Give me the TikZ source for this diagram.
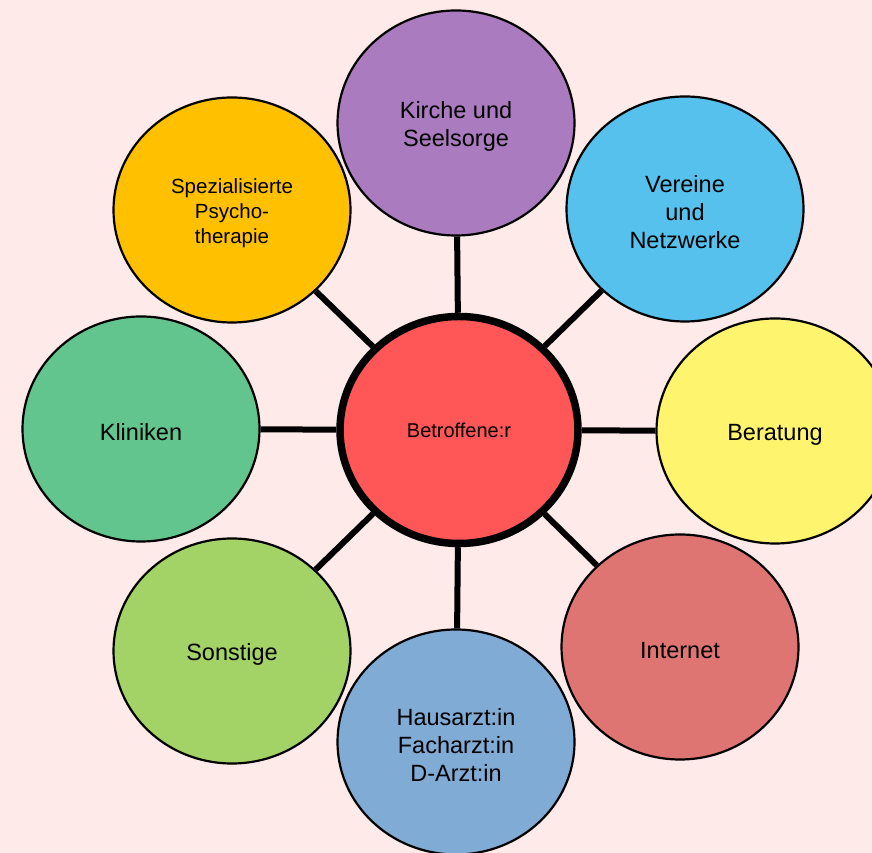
\documentclass[tikz,border=0pt]{standalone}
\usepackage{fontspec}
\setmainfont{Liberation Sans}
\usetikzlibrary{shapes.geometric}
\definecolor{bgpink}{HTML}{FFEAEA}
\definecolor{hubred}{HTML}{FF5757}
\definecolor{kirchecol}{HTML}{AA7BBE}
\definecolor{vereinecol}{HTML}{55C1EC}
\definecolor{beratungcol}{HTML}{FFF46E}
\definecolor{internetcol}{HTML}{DE7573}
\definecolor{arztcol}{HTML}{80ABD5}
\definecolor{sonstigecol}{HTML}{A3D366}
\definecolor{klinikcol}{HTML}{63C58E}
\definecolor{psychocol}{HTML}{FFC000}
% taller first line, pushes the text a little down
\newcommand{\toprule}{\rule{0pt}{1em}}
\begin{document}
\begin{tikzpicture}[x=1pt, y=1pt,
    bubble/.style={draw, ellipse, line width=2.2pt, minimum width=237pt, minimum height=225pt,
      inner sep=0pt, align=center, font=\fontsize{23.5}{28}\selectfont},
    hub/.style={draw, ellipse, line width=7.5pt, fill=hubred, minimum width=238pt, minimum height=227pt,
      inner sep=0pt, font=\fontsize{20}{24}\selectfont},
    link/.style={line width=6pt}]
  \fill[bgpink] (0,0) rectangle (872,853);
  \useasboundingbox (0,0) rectangle (872,853);
  \clip (0,0) rectangle (872,853);

  \node[hub] (hub) at (459, 423) {Betroffene:r};

  \node[bubble, fill=kirchecol] (kirche) at (456, 730) {\toprule Kirche und\\Seelsorge};
  \node[bubble, fill=vereinecol] (vereine) at (685, 644) {\toprule Vereine\\und\\Netzwerke};
  \node[bubble, fill=beratungcol] (beratung) at (775, 422) {\toprule Beratung};
  \node[bubble, fill=internetcol] (internet) at (680, 206) {\toprule Internet};
  \node[bubble, fill=arztcol] (arzt) at (456, 111) {\toprule Hausarzt:in\\Facharzt:in\\D-Arzt:in};
  \node[bubble, fill=sonstigecol] (sonstige) at (232, 202) {\toprule Sonstige};
  \node[bubble, fill=klinikcol] (kliniken) at (141, 424) {\toprule Kliniken};
  \node[bubble, fill=psychocol, font=\fontsize{20.5}{25}\selectfont] (psycho) at (232, 643)
    {\toprule Spezialisierte\\Psycho-\\therapie};

  \foreach \target in {kirche, vereine, beratung, internet, arzt, sonstige, kliniken, psycho}
    \draw[link] (hub) -- (\target);
\end{tikzpicture}
\end{document}
